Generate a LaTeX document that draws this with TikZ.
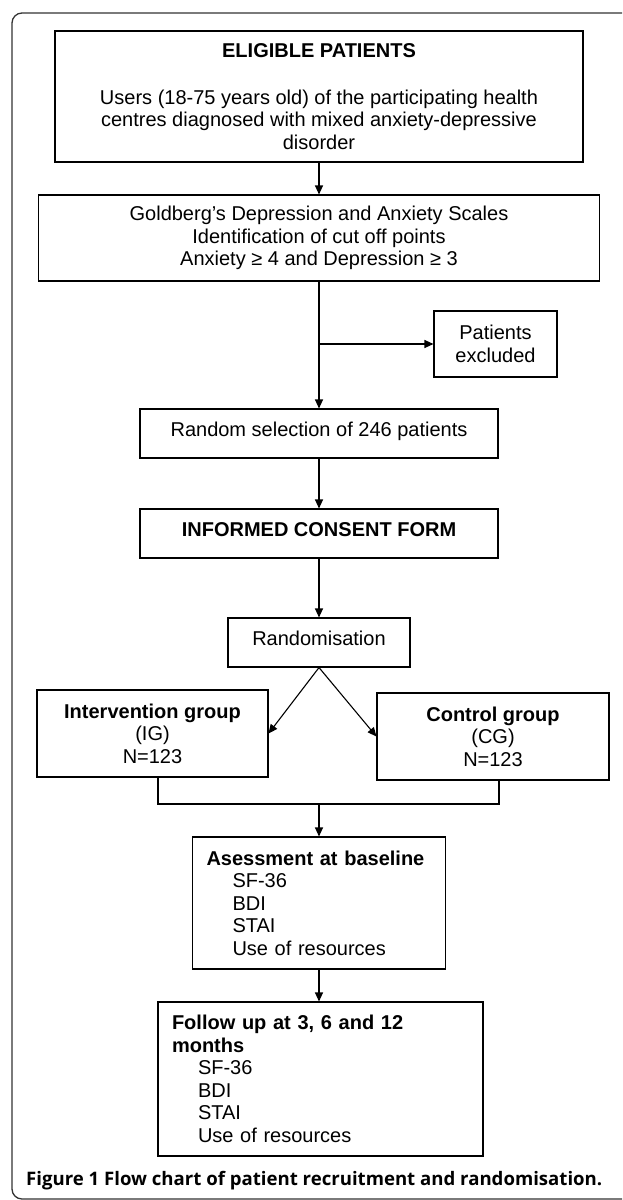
\documentclass[tikz,border=0pt]{standalone}
\usepackage{fontspec}
\setmainfont{Liberation Sans}
\newfontfamily\capfont{Open Sans}
\usetikzlibrary{arrows.meta,calc}
\begin{document}
\begin{tikzpicture}
[x=1pt,y=-1pt,
 box/.style={draw=black,rectangle,line width=1.1pt,inner sep=0pt,align=center,
   font=\fontsize{20}{22.5}\selectfont},
 listbox/.style={box,align=left,inner xsep=14pt},
 arr/.style={-{Triangle[length=9pt,width=8pt]},line width=1.1pt},
 bracket/.style={line width=2pt}]
\useasboundingbox (0,0) rectangle (622,1200);
\clip (0,0) rectangle (622,1200);
\draw[line width=1.3pt,draw=black!80,rounded corners=10pt] (12,13) rectangle (720,1199);
\node[box,minimum width=528pt,minimum height=131pt] (elig) at (319,96.5)
  {\textbf{ELIGIBLE PATIENTS}\\[24pt]
   Users (18-75 years old) of the participating health\\
   centres diagnosed with mixed anxiety-depressive\\
   disorder};
\node[box,minimum width=561pt,minimum height=86pt] (gold) at (319,238)
  {Goldberg's Depression and Anxiety Scales\\
   Identification of cut off points\\
   Anxiety ≥ 4 and Depression ≥ 3};
\node[box,minimum width=123pt,minimum height=66pt] (excl) at (495.5,344)
  {Patients\\excluded};
\node[box,minimum width=358pt,minimum height=49pt,text depth=8pt] (rand) at (319,433.5)
  {Random selection of 246 patients};
\node[box,minimum width=358pt,minimum height=49pt,text depth=8pt] (consent) at (319,533.5)
  {\textbf{INFORMED CONSENT FORM}};
\node[box,minimum width=182pt,minimum height=49pt,text depth=8pt] (randm) at (319,642.5)
  {Randomisation};
\node[box,minimum width=231pt,minimum height=87pt] (ig) at (152.5,733.5)
  {\textbf{Intervention group}\\(IG)\\N=123};
\node[box,minimum width=232pt,minimum height=87pt] (cg) at (493,736.5)
  {\textbf{Control group}\\(CG)\\N=123};
\node[listbox,text width=225pt,minimum height=132pt] (base) at (319,903)
  {\textbf{Asessment at baseline}\\
   \hspace*{26pt}SF-36\\
   \hspace*{26pt}BDI\\
   \hspace*{26pt}STAI\\
   \hspace*{26pt}Use of resources};
\node[listbox,text width=297pt,minimum height=154pt] (follow) at (320.5,1079)
  {\textbf{Follow up at 3, 6 and 12}\\
   \textbf{months}\\
   \hspace*{26pt}SF-36\\
   \hspace*{26pt}BDI\\
   \hspace*{26pt}STAI\\
   \hspace*{26pt}Use of resources};
\node[anchor=base west,inner sep=0pt,font=\capfont\fontsize{18.6}{21}\selectfont] (cap) at (26,1185)
  {\textbf{Figure 1} \textbf{Flow chart of patient recruitment and randomisation.}};
\coordinate (split) at (gold.south |- excl.west);
\coordinate (join) at (319,804);
\draw[arr] (elig.south) -- (gold.north);
\draw[arr] (gold.south) -- (rand.north);
\draw[arr] (split) -- (excl.west);
\draw[arr] (rand.south) -- (consent.north);
\draw[arr] (consent.south) -- (randm.north);
\draw[arr] (randm.south) -- (ig.east);
\draw[arr] (randm.south) -- (cg.west);
\draw[bracket] ($(ig.south)+(5,0)$) |- (join) -| ($(cg.south)+(6,0)$);
\draw[arr] (join) -- (base.north);
\draw[arr] (base.south) -- (base.south |- follow.north);
\end{tikzpicture}
\end{document}
